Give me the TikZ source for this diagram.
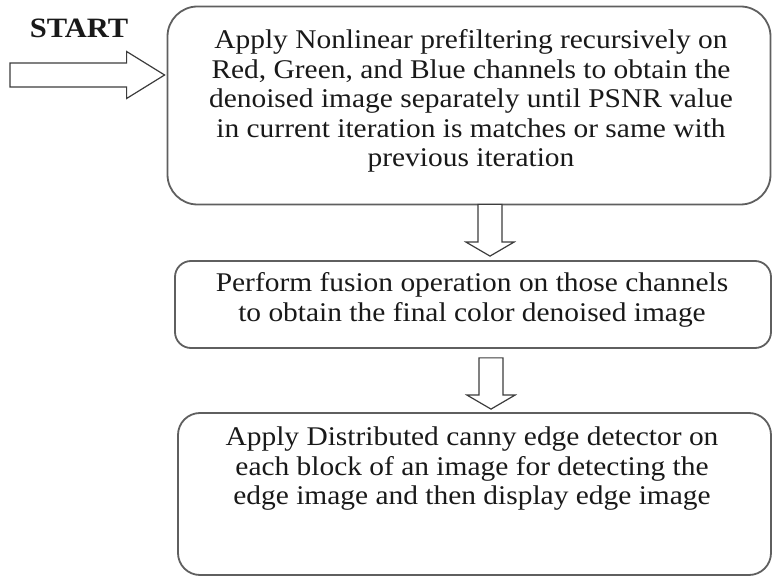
\documentclass[tikz,border=0pt]{standalone}
\usepackage{fontspec}
\setmainfont{Liberation Serif}[FakeStretch=1.09]
\usetikzlibrary{calc}

\definecolor{boxline}{RGB}{95,95,95}
\definecolor{arrowline}{RGB}{60,60,60}
\definecolor{ink}{RGB}{25,25,25}

% hollow block arrow: #1 tail, #2 tip, #3 half shaft width, #4 half head width, #5 head length
\newcommand\blockarrow[5]{%
  \path (#1) coordinate (ba-tail) (#2) coordinate (ba-tip)
        ($(ba-tip)!#5!(ba-tail)$) coordinate (ba-base);
  \draw[hollowarrow]
    ($(ba-tail)!#3!90:(ba-base)$) -- ($(ba-base)!#3!-90:(ba-tail)$)
    -- ($(ba-base)!#4!-90:(ba-tail)$) -- (ba-tip)
    -- ($(ba-base)!#4!90:(ba-tail)$) -- ($(ba-base)!#3!90:(ba-tail)$)
    -- ($(ba-tail)!#3!-90:(ba-base)$) -- cycle;
}

\tikzset{
  stepbox/.style={draw=boxline, line width=1.8pt, fill=white, inner sep=0pt},
  steptext/.style={text=ink, align=center, font=\fontsize{27}{29.5}\selectfont},
  hollowarrow/.style={draw=arrowline, line width=1.2pt, fill=white, line join=miter},
}

\begin{document}
\begin{tikzpicture}[x=1pt, y=-1pt]
  \useasboundingbox (0,0) rectangle (772,577);

  % process boxes
  \node[stepbox, rounded corners=30pt, minimum width=603pt, minimum height=198pt]
    (box1) at (469,105.5) {};
  \node[steptext] (t1) at (471,101)
    {Apply Nonlinear prefiltering recursively on\\
     Red, Green, and Blue channels to obtain the\\
     denoised image separately until PSNR value\\
     in current iteration is matches or same with\\
     previous iteration};

  \node[stepbox, rounded corners=16pt, minimum width=596pt, minimum height=87pt]
    (box2) at (473,304.5) {};
  \node[steptext] (t2) at (472,300)
    {Perform fusion operation on those channels\\
     to obtain the final color denoised image};

  \node[stepbox, rounded corners=22pt, minimum width=593pt, minimum height=162pt]
    (box3) at (474.5,494) {};
  \node[steptext] (t3) at (472,469)
    {Apply Distributed canny edge detector on\\
     each block of an image for detecting the\\
     edge image and then display edge image};

  % start marker
  \node[text=ink, font=\fontsize{28}{30}\bfseries\selectfont] (start) at (79,28) {START};
  \coordinate (starttail) at (10,75);
  \coordinate (starttip) at ($(box1.west |- starttail)+(-2,0)$);
  \blockarrow{starttail}{starttip}{12pt}{23.5pt}{38pt}

  % flow between steps
  \coordinate (a1tail) at ($(box1.south)+(21,-1)$);
  \coordinate (a1tip)  at ($(box2.north)+(17,-4)$);
  \blockarrow{a1tail}{a1tip}{12pt}{24pt}{14pt}

  \coordinate (a2tail) at ($(box2.south)+(18,9)$);
  \coordinate (a2tip)  at ($(box3.north)+(16.5,-3)$);
  \blockarrow{a2tail}{a2tip}{12pt}{24pt}{14pt}
\end{tikzpicture}
\end{document}
